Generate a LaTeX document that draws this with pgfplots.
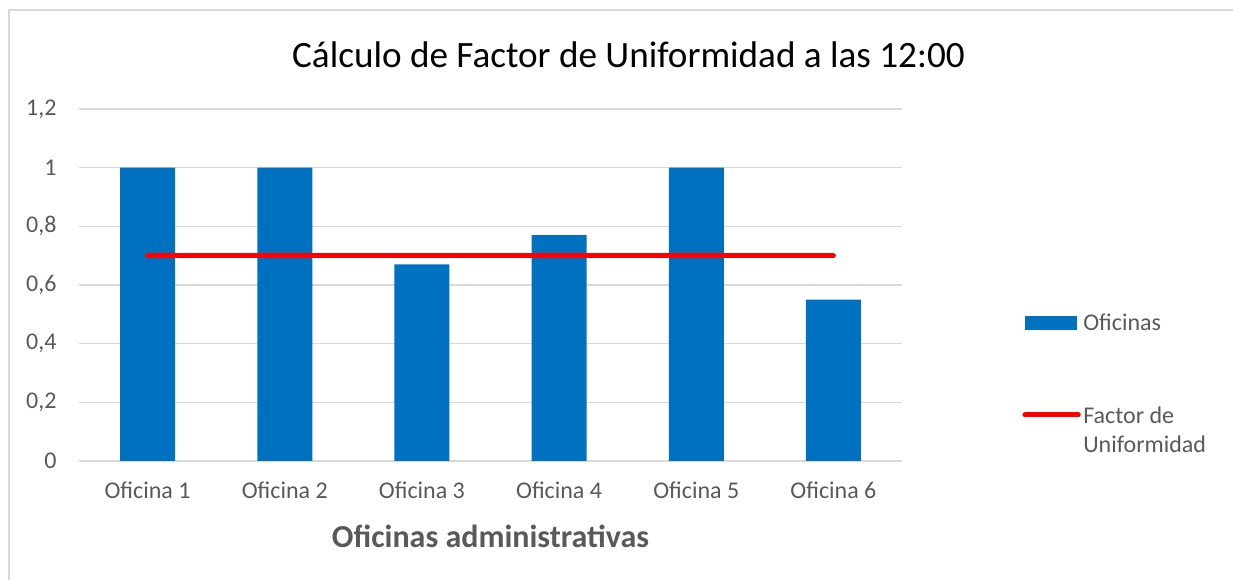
\documentclass[border=0pt]{standalone}
\usepackage{pgfplots}
\pgfplotsset{compat=1.18}
\usepackage{fontspec}
\setmainfont{Carlito}
\definecolor{barblue}{HTML}{0070C0}
\definecolor{txtgray}{HTML}{595959}
\definecolor{gridgray}{HTML}{D9D9D9}
\begin{document}
\begin{tikzpicture}
\useasboundingbox (0,0) rectangle (739.8pt,348pt);
\draw[color=gridgray, line width=1pt] (5.4pt,-20pt) rectangle (760pt,342pt);
\begin{axis}[
  at={(47.4pt,71.4pt)}, anchor=south west,
  scale only axis, width=493.8pt, height=211.2pt,
  xmin=0.5, xmax=6.5, ymin=0, ymax=1.2,
  xtick={1,2,3,4,5,6},
  xticklabels={Oficina 1,Oficina 2,Oficina 3,Oficina 4,Oficina 5,Oficina 6},
  ytick={0,0.2,0.4,0.6,0.8,1,1.2},
  /pgf/number format/assume math mode=true,
  /pgf/number format/use comma,
  yticklabel style={/pgf/number format/fixed},
  major tick length=0pt,
  axis line style={draw=none},
  ymajorgrids, grid style={gridgray, line width=0.7pt},
  tick label style={font=\fontsize{14.4pt}{17pt}\selectfont, text=txtgray},
  xticklabel style={yshift=-9pt},
  yticklabel style={xshift=-10pt},
  xlabel={\textbf{Oficinas administrativas}},
  xlabel style={font=\fontsize{19.2pt}{22pt}\selectfont, text=txtgray, yshift=-9pt},
  legend style={draw=none, fill=none, inner sep=0pt,
    at={(1.146,0.4285)}, anchor=north west,
    font=\fontsize{14.4pt}{17.4pt}\selectfont, text=txtgray,
    row sep=38.4pt, column sep=0pt,
    nodes={inner xsep=1.5pt}},
  legend cell align=left,
]
\addplot[ybar, bar width=33pt, fill=barblue, draw=none, bar shift=0pt,
  legend image code/.code={\fill[barblue] (0pt,-4.2pt) rectangle (31.2pt,4.2pt);}]
  coordinates {(1,1) (2,1) (3,0.67) (4,0.77) (5,1) (6,0.55)};
\addlegendentry{Oficinas}
\addplot[red, line width=3pt, line cap=round, mark=none,
  legend image code/.code={\draw[red, line width=3pt, line cap=round] (0pt,0pt) -- (32pt,0pt);}]
  coordinates {(1,0.7) (2,0.7) (3,0.7) (4,0.7) (5,0.7) (6,0.7)};
\addlegendentry{\begin{tabular}[t]{@{}l@{}}Factor de\\Uniformidad\end{tabular}}
\end{axis}
\node[font=\fontsize{22.3pt}{26pt}\selectfont, text=black] at (377.1pt,315pt) {Cálculo de Factor de Uniformidad a las 12:00};
\end{tikzpicture}
\end{document}
